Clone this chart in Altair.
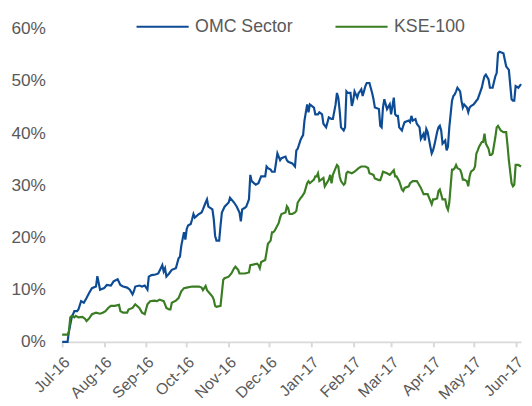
import altair as alt
import pandas as pd

# ---- data ----
omc_dates = [
    "2016-07-01", "2016-07-05", "2016-07-06", "2016-07-08", "2016-07-10", "2016-07-12", "2016-07-13",
    "2016-07-15", "2016-07-17", "2016-07-19", "2016-07-21", "2016-07-23", "2016-07-26", "2016-07-27",
    "2016-07-29", "2016-08-01", "2016-08-03", "2016-08-06", "2016-08-08", "2016-08-11", "2016-08-13",
    "2016-08-15", "2016-08-18", "2016-08-20", "2016-08-22", "2016-08-23", "2016-08-24", "2016-08-27",
    "2016-08-29", "2016-08-31", "2016-09-02", "2016-09-03", "2016-09-05", "2016-09-08", "2016-09-10",
    "2016-09-13", "2016-09-14", "2016-09-15", "2016-09-16", "2016-09-18", "2016-09-20", "2016-09-23",
    "2016-09-25", "2016-09-26", "2016-09-27", "2016-09-29", "2016-09-30", "2016-10-01", "2016-10-02",
    "2016-10-04", "2016-10-05", "2016-10-06", "2016-10-07", "2016-10-10", "2016-10-12", "2016-10-13",
    "2016-10-15", "2016-10-16", "2016-10-17", "2016-10-20", "2016-10-21", "2016-10-22", "2016-10-23",
    "2016-10-25", "2016-10-26", "2016-10-27", "2016-10-29", "2016-11-01", "2016-11-02", "2016-11-05",
    "2016-11-07", "2016-11-09", "2016-11-10", "2016-11-11", "2016-11-13", "2016-11-14", "2016-11-16",
    "2016-11-17", "2016-11-18", "2016-11-21", "2016-11-23", "2016-11-25", "2016-11-28", "2016-11-29",
    "2016-11-30", "2016-12-02", "2016-12-03", "2016-12-05", "2016-12-07", "2016-12-09", "2016-12-10",
    "2016-12-13", "2016-12-14", "2016-12-15", "2016-12-18", "2016-12-20", "2016-12-21", "2016-12-22",
    "2016-12-24", "2016-12-25", "2016-12-26", "2016-12-27", "2016-12-29", "2016-12-30", "2016-12-31",
    "2017-01-03", "2017-01-04", "2017-01-06", "2017-01-07", "2017-01-09", "2017-01-10", "2017-01-12",
    "2017-01-14", "2017-01-16", "2017-01-17", "2017-01-19", "2017-01-20", "2017-01-21", "2017-01-22",
    "2017-01-23", "2017-01-25", "2017-01-26", "2017-01-27", "2017-01-28", "2017-01-30", "2017-01-31",
    "2017-02-01", "2017-02-02", "2017-02-04", "2017-02-05", "2017-02-06", "2017-02-07", "2017-02-08",
    "2017-02-10", "2017-02-11", "2017-02-13", "2017-02-15", "2017-02-16", "2017-02-17", "2017-02-20",
    "2017-02-21", "2017-02-22", "2017-02-23", "2017-02-24", "2017-02-26", "2017-02-28", "2017-03-01",
    "2017-03-03", "2017-03-04", "2017-03-05", "2017-03-06", "2017-03-07", "2017-03-09", "2017-03-10",
    "2017-03-11", "2017-03-14", "2017-03-15", "2017-03-16", "2017-03-17", "2017-03-19", "2017-03-20",
    "2017-03-22", "2017-03-23", "2017-03-25", "2017-03-26", "2017-03-27", "2017-03-28", "2017-03-30",
    "2017-03-31", "2017-04-01", "2017-04-02", "2017-04-04", "2017-04-05", "2017-04-06", "2017-04-07",
    "2017-04-08", "2017-04-10", "2017-04-11", "2017-04-12", "2017-04-13", "2017-04-15", "2017-04-16",
    "2017-04-17", "2017-04-18", "2017-04-19", "2017-04-21", "2017-04-22", "2017-04-23", "2017-04-24",
    "2017-04-26", "2017-04-27", "2017-04-28", "2017-04-29", "2017-05-01", "2017-05-03", "2017-05-04",
    "2017-05-07", "2017-05-08", "2017-05-09", "2017-05-10", "2017-05-12", "2017-05-13", "2017-05-15",
    "2017-05-17", "2017-05-18", "2017-05-19", "2017-05-20", "2017-05-23", "2017-05-25", "2017-05-27",
    "2017-05-29", "2017-05-30", "2017-05-31", "2017-06-01", "2017-06-03", "2017-06-05",
]
omc_values = [
    0.0, 0.0, 2.0, 4.6, 5.9, 5.9, 6.2,
    7.8, 7.5, 8.4, 9.4, 10.3, 10.6, 12.6,
    10.0, 10.3, 10.9, 10.8, 11.6, 12.0, 10.9,
    10.6, 10.4, 10.0, 9.1, 9.7, 10.6, 10.8,
    10.6, 10.8, 10.0, 12.5, 12.8, 12.9, 13.1,
    14.7, 13.5, 14.1, 12.5, 13.1, 13.8, 14.1,
    16.0, 16.3, 18.4, 21.0, 19.6, 21.6, 22.3,
    22.6, 23.5, 24.5, 23.8, 24.5, 24.8, 25.4,
    26.7, 27.3, 25.9, 25.4, 23.5, 20.3, 19.4,
    19.4, 22.3, 24.8, 25.9, 26.7, 27.6, 26.7,
    25.9, 24.8, 23.1, 25.4, 25.7, 25.9, 27.3,
    32.0, 30.8, 30.1, 30.4, 31.7, 31.7, 33.6,
    33.3, 33.0, 32.6, 32.6, 36.1, 34.8, 35.2,
    35.5, 34.8, 34.5, 34.2, 33.6, 36.7, 37.0,
    38.6, 39.2, 39.6, 42.4, 45.5, 44.0, 45.5,
    44.9, 43.6, 43.6, 44.0, 43.6, 41.8, 41.1,
    43.0, 42.7, 42.7, 45.5, 47.7, 46.8, 44.3,
    41.1, 40.5, 41.1, 48.0, 47.7, 47.7, 45.2,
    46.2, 48.0, 46.8, 47.7, 48.0, 48.4, 47.1,
    49.0, 49.6, 49.6, 47.7, 46.5, 44.9, 44.6,
    41.4, 41.1, 44.9, 46.5, 44.6, 45.5, 43.6,
    46.8, 43.6, 43.3, 43.3, 41.1, 40.5, 41.4,
    42.1, 42.4, 42.1, 43.3, 42.4, 42.7, 41.8,
    41.1, 38.9, 39.9, 38.6, 40.8, 40.2, 37.4,
    36.1, 36.7, 37.7, 40.2, 41.1, 41.4, 40.5,
    38.0, 38.6, 36.7, 37.4, 41.1, 46.2, 47.1,
    47.4, 48.0, 48.7, 48.0, 46.2, 44.9, 45.5,
    44.9, 44.0, 44.9, 45.2, 45.5, 46.2, 46.5,
    48.7, 49.9, 50.9, 51.2, 50.3, 48.7, 48.7,
    50.9, 51.5, 55.3, 55.6, 55.3, 52.8, 52.1,
    46.5, 46.2, 46.2, 49.0, 48.7, 49.4,
]

kse_dates = [
    "2016-07-01", "2016-07-05", "2016-07-06", "2016-07-07", "2016-07-08", "2016-07-10", "2016-07-11",
    "2016-07-13", "2016-07-16", "2016-07-18", "2016-07-19", "2016-07-21", "2016-07-23", "2016-07-26",
    "2016-07-29", "2016-07-31", "2016-08-02", "2016-08-04", "2016-08-06", "2016-08-09", "2016-08-12",
    "2016-08-13", "2016-08-15", "2016-08-18", "2016-08-19", "2016-08-22", "2016-08-24", "2016-08-27",
    "2016-08-29", "2016-08-31", "2016-09-02", "2016-09-04", "2016-09-07", "2016-09-09", "2016-09-11",
    "2016-09-14", "2016-09-15", "2016-09-16", "2016-09-18", "2016-09-19", "2016-09-20", "2016-09-23",
    "2016-09-25", "2016-09-27", "2016-09-29", "2016-10-01", "2016-10-05", "2016-10-10", "2016-10-12",
    "2016-10-13", "2016-10-15", "2016-10-16", "2016-10-17", "2016-10-20", "2016-10-21", "2016-10-22",
    "2016-10-23", "2016-10-26", "2016-10-27", "2016-10-28", "2016-10-29", "2016-11-01", "2016-11-03",
    "2016-11-05", "2016-11-06", "2016-11-08", "2016-11-09", "2016-11-13", "2016-11-16", "2016-11-17",
    "2016-11-19", "2016-11-22", "2016-11-23", "2016-11-24", "2016-11-25", "2016-11-28", "2016-11-29",
    "2016-11-30", "2016-12-02", "2016-12-03", "2016-12-04", "2016-12-05", "2016-12-08", "2016-12-09",
    "2016-12-10", "2016-12-13", "2016-12-14", "2016-12-15", "2016-12-16", "2016-12-18", "2016-12-20",
    "2016-12-21", "2016-12-22", "2016-12-24", "2016-12-25", "2016-12-27", "2016-12-29", "2016-12-30",
    "2016-12-31", "2017-01-03", "2017-01-04", "2017-01-05", "2017-01-06", "2017-01-07", "2017-01-10",
    "2017-01-11", "2017-01-14", "2017-01-15", "2017-01-16", "2017-01-17", "2017-01-19", "2017-01-20",
    "2017-01-21", "2017-01-22", "2017-01-23", "2017-01-25", "2017-01-26", "2017-01-27", "2017-01-28",
    "2017-01-31", "2017-02-02", "2017-02-05", "2017-02-07", "2017-02-10", "2017-02-12", "2017-02-13",
    "2017-02-16", "2017-02-17", "2017-02-20", "2017-02-21", "2017-02-22", "2017-02-23", "2017-02-26",
    "2017-02-28", "2017-03-03", "2017-03-04", "2017-03-05", "2017-03-07", "2017-03-09", "2017-03-10",
    "2017-03-11", "2017-03-14", "2017-03-15", "2017-03-17", "2017-03-20", "2017-03-21", "2017-03-23",
    "2017-03-25", "2017-03-26", "2017-03-28", "2017-03-31", "2017-04-01", "2017-04-02", "2017-04-04",
    "2017-04-05", "2017-04-06", "2017-04-07", "2017-04-08", "2017-04-10", "2017-04-11", "2017-04-12",
    "2017-04-13", "2017-04-15", "2017-04-16", "2017-04-17", "2017-04-18", "2017-04-19", "2017-04-21",
    "2017-04-22", "2017-04-23", "2017-04-24", "2017-04-26", "2017-04-27", "2017-04-28", "2017-04-29",
    "2017-05-01", "2017-05-02", "2017-05-03", "2017-05-04", "2017-05-05", "2017-05-07", "2017-05-08",
    "2017-05-09", "2017-05-10", "2017-05-12", "2017-05-13", "2017-05-14", "2017-05-15", "2017-05-17",
    "2017-05-18", "2017-05-19", "2017-05-21", "2017-05-23", "2017-05-25", "2017-05-26", "2017-05-27",
    "2017-05-29", "2017-05-30", "2017-05-31", "2017-06-01", "2017-06-03", "2017-06-05",
]
kse_values = [
    1.4, 1.4, 2.0, 4.7, 5.0, 4.7, 5.0,
    4.7, 4.8, 4.4, 4.0, 4.5, 5.3, 5.6,
    5.4, 5.6, 5.9, 6.5, 6.9, 6.9, 7.1,
    5.9, 5.6, 5.6, 6.2, 6.5, 7.2, 6.5,
    5.6, 5.3, 7.2, 7.8, 7.9, 7.8, 8.1,
    7.8, 7.2, 6.5, 6.2, 6.2, 7.5, 7.9,
    8.4, 9.7, 10.3, 10.4, 10.6, 10.6, 10.4,
    9.9, 10.7, 9.9, 9.6, 8.7, 8.1, 6.9,
    6.7, 6.9, 9.4, 11.9, 12.2, 12.5, 13.1,
    14.1, 14.4, 13.8, 13.1, 13.1, 13.3, 14.7,
    14.8, 15.0, 14.7, 14.1, 15.3, 15.7, 17.2,
    18.8, 19.4, 21.0, 21.0, 21.3, 22.8, 23.8,
    24.5, 24.8, 26.0, 25.6, 24.5, 24.5, 24.8,
    25.1, 26.7, 27.5, 27.8, 28.6, 30.4, 30.8,
    30.4, 31.1, 31.7, 31.7, 32.3, 30.8, 31.4,
    29.8, 31.1, 32.0, 30.4, 32.0, 33.3, 33.9,
    33.6, 31.7, 30.8, 30.1, 30.4, 32.3, 32.6,
    32.3, 32.6, 33.3, 33.6, 33.6, 33.3, 32.3,
    32.0, 31.3, 31.0, 31.0, 31.7, 32.6, 32.3,
    32.0, 32.9, 31.7, 31.7, 30.8, 29.2, 28.9,
    29.5, 29.8, 30.4, 30.8, 30.8, 30.4, 29.5,
    28.3, 28.3, 28.3, 26.4, 27.3, 27.3, 27.5,
    28.9, 29.2, 28.3, 27.3, 27.3, 25.9, 25.3,
    26.7, 33.0, 33.0, 33.3, 33.9, 33.3, 33.0,
    32.3, 31.1, 31.1, 30.8, 29.8, 31.7, 32.6,
    33.0, 33.6, 36.1, 36.7, 37.4, 38.3, 38.3,
    39.9, 38.0, 37.0, 35.8, 35.8, 36.1, 39.2,
    41.1, 41.4, 40.5, 40.2, 40.2, 37.7, 34.8,
    30.4, 29.8, 30.1, 33.9, 33.9, 33.6,
]

series_names = ["OMC Sector", "KSE-100"]
series_colors = ["#0D4C94", "#3A7D23"]
y_ticks = [0, 10, 20, 30, 40, 50, 60]
month_ticks = [(2016, m) for m in range(7, 13)] + [(2017, m) for m in range(1, 7)]

df = pd.concat([
    pd.DataFrame({"date": pd.to_datetime(omc_dates), "value": omc_values, "series": series_names[0]}),
    pd.DataFrame({"date": pd.to_datetime(kse_dates), "value": kse_values, "series": series_names[1]}),
], ignore_index=True)

grey = "#595959"

chart = alt.Chart(df).mark_line(strokeWidth=2.2).encode(
    x=alt.X(
        "date:T",
        scale=alt.Scale(domain=[alt.DateTime(year=2016, month=7, date=1),
                                alt.DateTime(year=2017, month=6, date=5)]),
        axis=alt.Axis(
            title=None,
            values=[alt.DateTime(year=y, month=m, date=1) for y, m in month_ticks],
            format="%b-%y", labelAngle=-45, labelFontSize=16, labelColor=grey,
            domainColor="#D9D9D9", domainWidth=2, tickColor="#D9D9D9", tickWidth=2,
            tickSize=5, labelPadding=7, labelOffset=-1, grid=False,
            labelOverlap=False, labelFlush=False,
        ),
    ),
    y=alt.Y(
        "value:Q",
        scale=alt.Scale(domain=[0, 60], nice=False),
        axis=alt.Axis(
            title=None, values=y_ticks, labelExpr="datum.value + '%'",
            domain=False, ticks=False, grid=False, labelPadding=17,
            labelFontSize=17.5, labelColor=grey,
        ),
    ),
    color=alt.Color(
        "series:N",
        scale=alt.Scale(domain=series_names, range=series_colors),
        legend=alt.Legend(
            title=None, orient="none", direction="horizontal",
            legendX=74, legendY=-30, symbolType="stroke", symbolSize=2800,
            symbolStrokeWidth=2.2, labelFontSize=18, labelColor=grey,
            columnPadding=38, labelOffset=5, padding=0,
        ),
    ),
).properties(
    width=466, height=318,
    padding={"left": 55, "top": 18, "right": 3, "bottom": 58},
    autosize=alt.AutoSizeParams(type="none"),
).configure(font="Liberation Sans").configure_view(stroke=None)

chart.save("out.html", embed_options={"renderer": "svg", "actions": False})
